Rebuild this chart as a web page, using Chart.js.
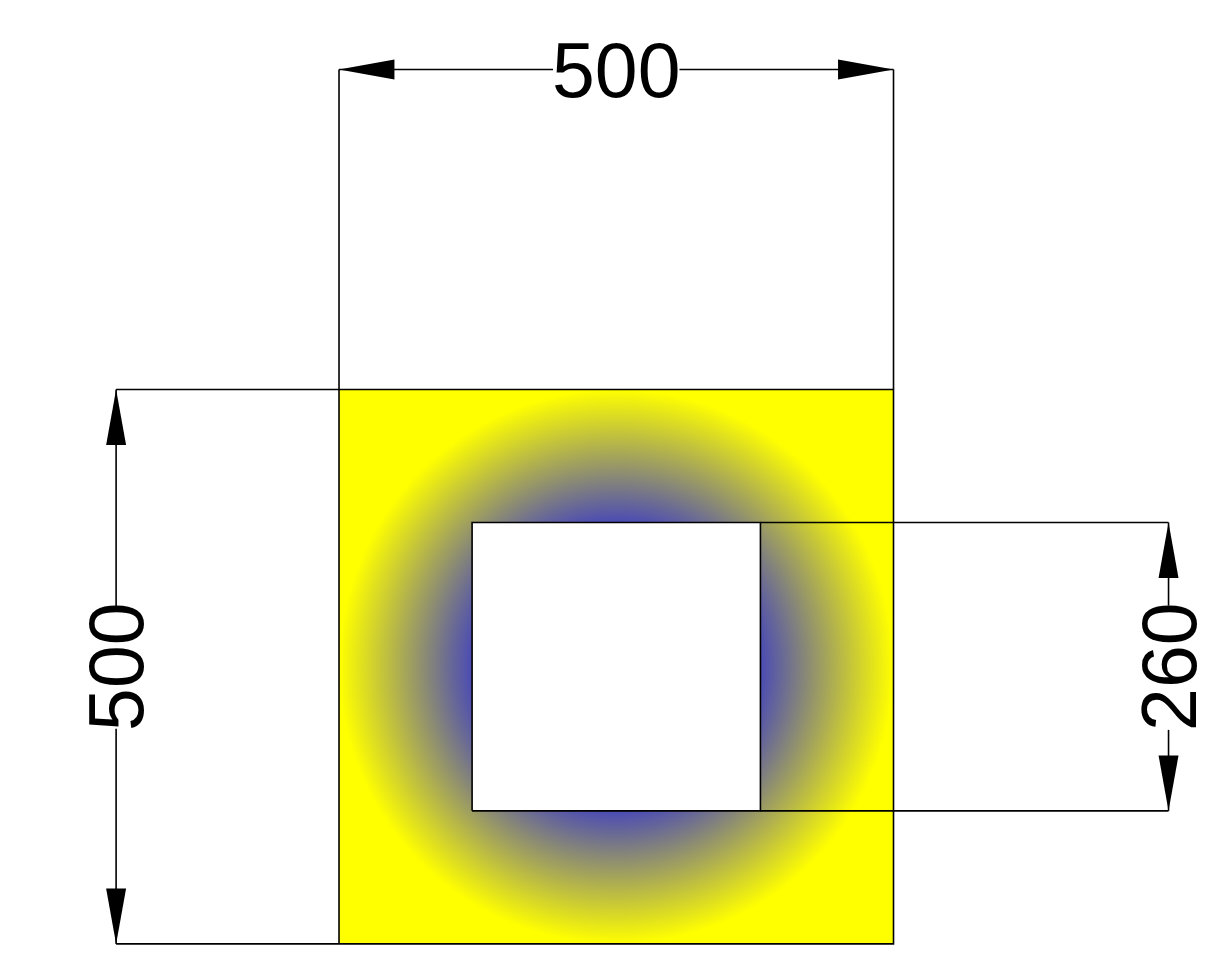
<!DOCTYPE html>
<html>
<head>
<meta charset="utf-8">
<title>Plate with square hole</title>
<script src="https://cdn.jsdelivr.net/npm/chart.js@4/dist/chart.umd.min.js"></script>
<style>
  html, body { margin: 0; padding: 0; background: #fff; }
  canvas { display: block; }
</style>
</head>
<body>
<canvas id="drawing" width="1215" height="954"></canvas>
<script>
// All values are drawing units: plate corner at 0,0, plate is 500 x 500
const plateX = [0, 500, 500, 0];
const plateY = [0, 0, 500, 500];
const holeX = [120, 380, 380, 120];
const holeY = [120, 120, 380, 380];

// Centre of the ring and where blue ends / yellow starts
const ringCentre = [250, 250];
const ringRadii = [80, 250];

// Extension lines, as [x1, y1, x2, y2]
const extensionLines = [
    [0, 500, 0, 788.5],
    [500, 500, 500, 788.5],
    [-201, 500, 0, 500],
    [-201, 0, 0, 0],
    [380, 380, 748, 380],
    [380, 120, 748, 120]
];

// Dimension lines, broken where the number sits
const dimensionLines = [
    [0, 788.5, 193, 788.5],
    [307, 788.5, 500, 788.5],
    [-201, 0, -201, 194],
    [-201, 304, -201, 500],
    [748, 120, 748, 193],
    [748, 305, 748, 380]
];

// Arrow tips and the direction each head points at
const arrowTipX = [0, 500, -201, -201, 748, 748];
const arrowTipY = [788.5, 788.5, 500, 0, 380, 120];
const arrowDirX = [-1, 1, 0, 0, 0, 0];
const arrowDirY = [0, 0, 1, -1, 1, -1];
const ARROW_LENGTH = 50;
const ARROW_HALF_WIDTH = 9;

// Dimension numbers
const dimLabels = ['500', '500', '260'];
const dimLabelX = [250, -201, 748];
const dimLabelY = [788.5, 250, 250];
const dimLabelRotated = [false, true, true];

const INK = '#000000';
const LINE_WIDTH = 1.6;

function toPoints(xs, ys) {
    return xs.map((x, i) => ({ x: x, y: ys[i] }));
}

function closed(points) {
    return points.concat([points[0]]);
}

function lineDataset(seg) {
    return {
        data: [{ x: seg[0], y: seg[1] }, { x: seg[2], y: seg[3] }],
        borderColor: INK,
        borderWidth: LINE_WIDTH,
        showLine: true,
        pointRadius: 0,
        fill: false
    };
}

function arrowDataset(i) {
    const tx = arrowTipX[i], ty = arrowTipY[i];
    const dx = arrowDirX[i], dy = arrowDirY[i];
    const bx = tx - dx * ARROW_LENGTH, by = ty - dy * ARROW_LENGTH;
    return {
        data: closed([
            { x: tx, y: ty },
            { x: bx - dy * ARROW_HALF_WIDTH, y: by + dx * ARROW_HALF_WIDTH },
            { x: bx + dy * ARROW_HALF_WIDTH, y: by - dx * ARROW_HALF_WIDTH }
        ]),
        borderColor: INK,
        borderWidth: 0,
        backgroundColor: INK,
        showLine: true,
        pointRadius: 0,
        fill: 'shape'
    };
}

// Fill for the plate, built from the scales so it follows the drawing units
function ringGradient(context) {
    const chart = context.chart;
    if (!chart.chartArea) return '#ffff00'; // scales not laid out yet
    const xScale = chart.scales.x;
    const cx = xScale.getPixelForValue(ringCentre[0]);
    const cy = chart.scales.y.getPixelForValue(ringCentre[1]);
    const pxPerUnit = xScale.getPixelForValue(1) - xScale.getPixelForValue(0);
    if (!Number.isFinite(cx) || !Number.isFinite(cy) || !Number.isFinite(pxPerUnit)) return '#ffff00';
    const g = chart.ctx.createRadialGradient(cx, cy, ringRadii[0] * pxPerUnit, cx, cy, ringRadii[1] * pxPerUnit);
    g.addColorStop(0, '#0000ff');
    g.addColorStop(1, '#ffff00');
    return g;
}

// Draws the dimension numbers at their place on the scales
const dimLabelPlugin = {
    id: 'dimLabels',
    afterDatasetsDraw(chart) {
        const ctx = chart.ctx;
        ctx.save();
        ctx.fillStyle = INK;
        ctx.font = '77px "Liberation Sans"';
        ctx.textAlign = 'center';
        ctx.textBaseline = 'alphabetic';
        dimLabels.forEach((label, i) => {
            ctx.save();
            ctx.translate(chart.scales.x.getPixelForValue(dimLabelX[i]), chart.scales.y.getPixelForValue(dimLabelY[i]));
            if (dimLabelRotated[i]) ctx.rotate(-Math.PI / 2);
            ctx.fillText(label, 0, 27);
            ctx.restore();
        });
        ctx.restore();
    }
};

// First dataset ends up on top, so the plate goes last
const datasets = [];
arrowTipX.forEach((_, i) => datasets.push(arrowDataset(i)));
dimensionLines.forEach(seg => datasets.push(lineDataset(seg)));
extensionLines.forEach(seg => datasets.push(lineDataset(seg)));
datasets.push({
    data: closed(toPoints(holeX, holeY)),
    borderColor: INK,
    borderWidth: LINE_WIDTH,
    backgroundColor: '#ffffff',
    showLine: true,
    pointRadius: 0,
    fill: 'shape'
});
datasets.push({
    data: closed(toPoints(plateX, plateY)),
    borderColor: INK,
    borderWidth: LINE_WIDTH,
    backgroundColor: ringGradient,
    showLine: true,
    pointRadius: 0,
    fill: 'shape'
});

const drawing = new Chart(document.getElementById('drawing').getContext('2d'), {
    type: 'scatter',
    data: { datasets: datasets },
    plugins: [dimLabelPlugin],
    options: {
        responsive: false,
        animation: false,
        layout: { padding: 0, autoPadding: false },
        clip: false,
        scales: {
            x: { type: 'linear', display: false, min: -305.7, max: 789.9 },
            y: { type: 'linear', display: false, min: -9.1, max: 851.2 }
        },
        plugins: {
            legend: { display: false },
            tooltip: { enabled: false }
        }
    }
});
drawing.update(); // second pass so the gradient sees the laid out scales
</script>
</body>
</html>
